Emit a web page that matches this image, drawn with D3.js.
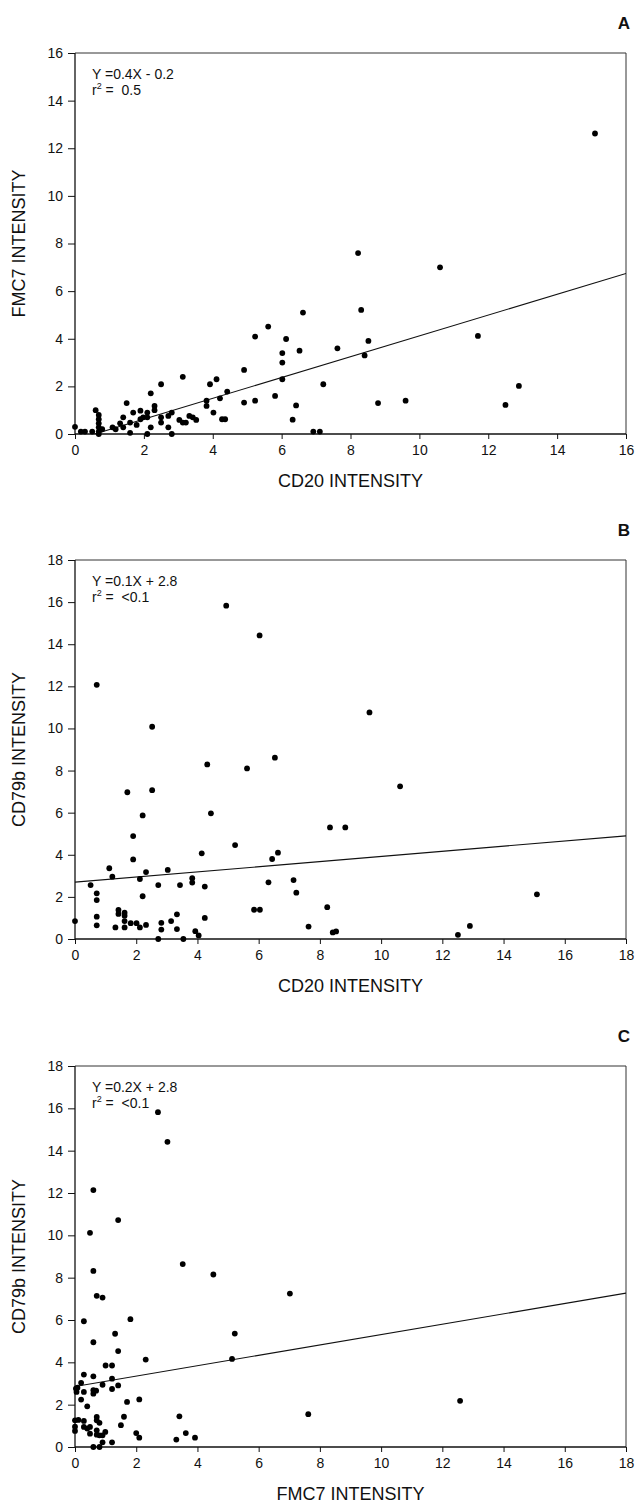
<!DOCTYPE html>
<html>
<head>
<meta charset="utf-8">
<script src="https://cdn.jsdelivr.net/npm/d3@7"></script>
<style>
  html, body { margin: 0; padding: 0; background: #fff; }
  svg { display: block; }
  text { font-family: "Liberation Sans", Arial, Helvetica, sans-serif; fill: #111; }
</style>
</head>
<body>
<script>
// ---------- DATA ----------
// Panel A: CD20 intensity (x) vs FMC7 intensity (y)
const aCD20 = [0,0.17,0.29,0.5,0.6,0.69,0.69,0.69,0.69,0.69,0.69,0.79,1.09,1.18,1.31,1.4,1.4,1.5,1.6,1.6,
  1.69,1.79,1.9,1.9,1.98,2.1,2.1,2.1,2.2,2.2,2.31,2.31,2.5,2.5,2.5,2.71,2.71,2.81,2.81,3.03,
  3.13,3.13,3.22,3.32,3.42,3.52,3.82,3.82,3.92,4.02,4.11,4.21,4.27,4.36,4.42,4.91,4.91,5.23,5.23,5.61,
  5.81,6.02,6.02,6.02,6.13,6.32,6.42,6.52,6.62,6.92,7.11,7.21,7.62,8.22,8.31,8.41,8.52,8.8,9.6,10.6,
  11.7,12.5,12.89,15.1];
const aFMC7 = [0.3,0.1,0.1,0.1,1.0,0.8,0.62,0.45,0.28,0.1,0.0,0.2,0.28,0.2,0.45,0.7,0.28,1.3,0.48,0.05,
  0.9,0.38,0.98,0.62,0.7,0.9,0.7,0.0,1.71,0.28,1.18,1.0,2.09,0.7,0.48,0.28,0.76,0.9,0.0,0.59,
  2.4,0.48,0.48,0.76,0.7,0.59,1.4,1.18,2.09,0.9,2.3,1.5,0.62,0.62,1.78,2.69,1.32,4.09,1.4,4.51,
  1.6,3.4,3.0,2.3,3.99,0.6,1.2,3.5,5.1,0.1,0.1,2.09,3.6,7.6,5.21,3.3,3.91,1.3,1.4,7.0,
  4.12,1.22,2.02,12.62];

// Panel B: CD20 intensity (x) vs CD79b intensity (y)
const bCD20 = [0,0.51,0.71,0.71,0.71,0.71,0.71,1.12,1.22,1.32,1.42,1.42,1.62,1.62,1.62,1.62,1.71,1.82,1.9,1.9,
  2.01,2.12,2.12,2.21,2.21,2.32,2.32,2.52,2.52,2.72,2.72,2.82,2.82,3.03,3.14,3.33,3.33,3.43,3.54,3.83,
  3.83,3.93,4.04,4.14,4.24,4.24,4.32,4.44,4.94,5.23,5.62,5.85,6.04,6.03,6.32,6.44,6.53,6.63,7.14,7.23,
  7.63,8.24,8.33,8.83,8.42,8.53,9.62,10.62,12.51,12.9,15.09];
const bCD79b = [0.85,2.56,12.07,2.17,1.85,1.06,0.65,3.36,2.96,0.55,1.38,1.19,1.25,1.11,0.85,0.55,6.97,0.75,4.89,3.78,
  0.75,2.85,0.55,5.87,2.03,3.18,0.67,10.08,7.07,2.56,0.0,0.77,0.45,3.28,0.85,1.17,0.47,2.56,0.0,2.89,
  2.68,0.37,0.17,4.07,2.49,1.0,8.29,5.97,15.83,4.46,8.1,1.39,1.39,14.42,2.69,3.8,8.61,4.1,2.8,2.2,
  0.59,1.51,5.3,5.3,0.31,0.36,10.76,7.25,0.2,0.62,2.12];

// Panel C: FMC7 intensity (x) vs CD79b intensity (y)
const cFMC7 = [0.0,0.0,0.0,0.11,0.03,0.05,0.08,0.2,0.2,0.29,0.29,0.29,0.29,0.29,0.4,0.4,0.49,0.49,0.49,0.6,
  0.6,0.6,0.6,0.6,0.6,0.6,0.71,0.69,0.71,0.71,0.71,0.71,0.8,0.8,0.8,0.9,0.9,0.9,0.9,0.99,
  1.0,1.21,1.21,1.21,1.21,1.31,1.41,1.41,1.41,1.5,1.6,1.7,1.81,2.0,2.1,2.1,2.31,2.71,3.02,3.31,
  3.41,3.52,3.62,3.92,4.52,5.13,5.22,7.02,7.62,12.58];
const cCD79b = [1.26,0.96,0.76,1.28,2.76,2.6,2.8,3.03,2.24,5.94,3.42,2.6,1.23,0.95,1.92,0.87,10.12,0.95,0.63,12.14,
  8.32,4.95,3.34,2.68,2.52,0.0,7.14,2.66,1.42,1.26,0.79,0.58,1.14,0.55,0.0,7.06,2.94,0.55,0.22,0.71,
  3.85,3.85,3.23,2.74,0.22,5.35,10.72,4.53,2.91,1.03,1.43,2.13,6.04,0.66,2.25,0.44,4.13,15.82,14.42,0.35,
  1.45,8.64,0.66,0.44,8.15,4.16,5.36,7.25,1.55,2.18];

// Regression lines (slope, intercept) as drawn
const regSlope = [0.437, 0.122, 0.245];
const regIntercept = [-0.25, 2.7, 2.86];

// Annotation text
const panelLetters = ["A", "B", "C"];
const eqLines = ["Y =0.4X - 0.2", "Y =0.1X + 2.8", "Y =0.2X + 2.8"];
const r2Values = ["0.5", "<0.1", "<0.1"];
const xTitles = ["CD20 INTENSITY", "CD20 INTENSITY", "FMC7 INTENSITY"];
const yTitles = ["FMC7 INTENSITY", "CD79b INTENSITY", "CD79b INTENSITY"];

// Axis extents / ticks
const axisMax = [16, 18, 18];
const ticksA = [0,2,4,6,8,10,12,14,16];
const ticksBC = [0,2,4,6,8,10,12,14,16,18];

// ---------- DRAW ----------
const W = 635, H = 1503;
const svg = d3.select("body").append("svg").attr("width", W).attr("height", H);

const left = 75, right = 626;
const panelTop = [53, 560, 1066];
const panelBottom = [434, 939, 1447];
const xsData = [aCD20, bCD20, cFMC7];
const ysData = [aFMC7, bCD79b, cCD79b];
const tickSets = [ticksA, ticksBC, ticksBC];

for (let p = 0; p < 3; p++) {
  const top = panelTop[p], bottom = panelBottom[p];
  const x = d3.scaleLinear().domain([0, axisMax[p]]).range([left, right]);
  const y = d3.scaleLinear().domain([0, axisMax[p]]).range([bottom, top]);
  const g = svg.append("g");

  const cid = "clip" + p;
  svg.append("clipPath").attr("id", cid).append("rect")
    .attr("x", left).attr("y", top).attr("width", right - left).attr("height", bottom - top);

  g.append("line").attr("x1", left).attr("x2", right).attr("y1", top).attr("y2", top)
    .attr("stroke", "#333").attr("stroke-width", 1);
  g.append("line").attr("x1", right).attr("x2", right).attr("y1", top).attr("y2", bottom)
    .attr("stroke", "#333").attr("stroke-width", 1);

  const xAxis = d3.axisBottom(x).tickValues(tickSets[p]).tickSize(5).tickPadding(6).tickFormat(d3.format("d"));
  const yAxis = d3.axisLeft(y).tickValues(tickSets[p]).tickSize(7).tickPadding(5).tickFormat(d3.format("d"));
  const gx = g.append("g").attr("transform", `translate(0,${bottom})`).call(xAxis);
  const gy = g.append("g").attr("transform", `translate(${left},0)`).call(yAxis);
  [gx, gy].forEach(a => {
    a.select(".domain").attr("stroke", "#111").attr("stroke-width", 1.3);
    a.selectAll(".tick line").attr("stroke", "#111").attr("stroke-width", 1);
    a.selectAll(".tick text").attr("font-size", 14)
      .attr("font-family", "'Liberation Sans', Arial, sans-serif").attr("fill", "#111");
  });
  gx.select(".domain").attr("d", `M${left},0H${right}`);
  gy.select(".domain").attr("d", `M0,${bottom}V${top}`);

  const m = regSlope[p], b = regIntercept[p];
  g.append("line")
    .attr("clip-path", `url(#${cid})`)
    .attr("x1", x(0)).attr("y1", y(b))
    .attr("x2", x(axisMax[p])).attr("y2", y(m * axisMax[p] + b))
    .attr("stroke", "#111").attr("stroke-width", 1.1);

  const pts = xsData[p].map((v, i) => [v, ysData[p][i]]);
  g.append("g").selectAll("circle").data(pts).join("circle")
    .attr("cx", d => x(d[0])).attr("cy", d => y(d[1])).attr("r", 2.9).attr("fill", "#000");

  g.append("text").attr("x", left + 17).attr("y", top + 26).attr("font-size", 14).text(eqLines[p]);
  const r2 = g.append("text").attr("x", left + 17).attr("y", top + 42).attr("font-size", 14);
  r2.append("tspan").text("r");
  r2.append("tspan").attr("font-size", 9).attr("dy", -6).text("2");
  r2.append("tspan").attr("dy", 6).text("\u00a0=\u00a0\u00a0" + r2Values[p]);

  g.append("text").attr("x", (left + right) / 2).attr("y", bottom + 53)
    .attr("text-anchor", "middle").attr("font-size", 18).text(xTitles[p]);
  g.append("text").attr("transform", `translate(25,${(top + bottom) / 2}) rotate(-90)`)
    .attr("text-anchor", "middle").attr("font-size", 18).text(yTitles[p]);

  g.append("text").attr("x", 630).attr("y", top - 24).attr("text-anchor", "end")
    .attr("font-size", 17).attr("font-weight", "bold").text(panelLetters[p]);
}
</script>
</body>
</html>
